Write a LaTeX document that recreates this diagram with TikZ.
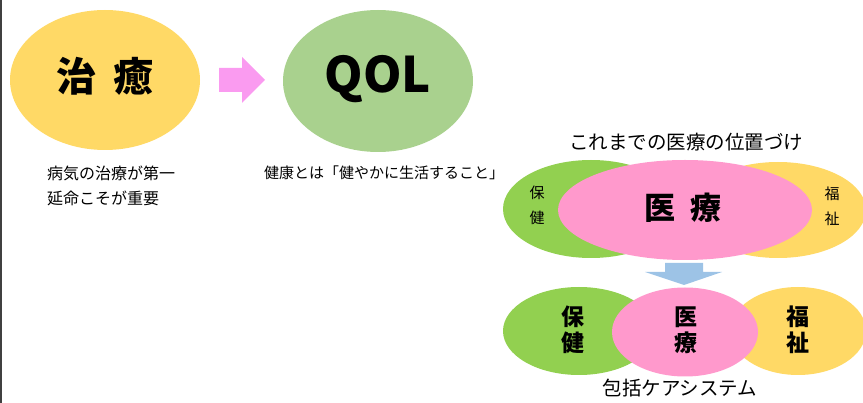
\documentclass[tikz,border=0pt]{standalone}
\usepackage{fontspec}
\setmainfont{Noto Sans CJK JP}
\newfontfamily\jp{Noto Sans CJK JP}
\usetikzlibrary{shapes.geometric}
\definecolor{cyellow}{HTML}{FFD966}
\definecolor{cgreen}{HTML}{92D050}
\definecolor{cqol}{HTML}{A9D18E}
\definecolor{cpink}{HTML}{FF99CC}
\definecolor{carrowpink}{HTML}{FA9BF0}
\definecolor{cblue}{HTML}{9DC3E6}
\tikzset{
  blob/.style={ellipse, inner sep=0pt, draw=none},
  lbl/.style={inner sep=0pt, font=\jp\fontsize{15}{18}\selectfont, anchor=west},
  head/.style={inner sep=0pt, font=\jp\fontsize{19.5}{22}\selectfont},
}
\begin{document}
\begin{tikzpicture}[x=1pt,y=-1pt]
\useasboundingbox (0,0) rectangle (863,403);
\clip (0,0) rectangle (863,403);
\fill[black!75] (0,0) rectangle (2,403);

% top left
\node[blob, fill=cyellow, minimum width=190pt, minimum height=140pt] (chiyu) at (105,80) {};
\node[inner sep=0pt, font=\jp\bfseries\fontsize{40}{44}\selectfont] (chiyut) at (105,76) {治\hspace{0.45em}癒};
\node[blob, fill=cqol, minimum width=190pt, minimum height=142pt] (qol) at (378,81) {};
\node[inner sep=0pt, font=\jp\bfseries\fontsize{49}{52}\selectfont] (qolt) at (378,79) {QOL};

\fill[carrowpink] (219,68) -- (242,68) -- (242,57) -- (265,80) -- (242,103) -- (242,92) -- (219,92) -- cycle;

\node[lbl, font=\jp\fontsize{16}{18}\selectfont] (t1) at (47,173) {病気の治療が第一};
\node[lbl, font=\jp\fontsize{16}{18}\selectfont] (t2) at (47,198) {延命こそが重要};
\node[lbl] (t3) at (264,173) {健康とは「健やかに生活すること」};

% top venn
\node[head] (h1) at (686,142) {これまでの医療の位置づけ};
\node[blob, fill=cgreen, minimum width=176pt, minimum height=98pt] (g1) at (591,209) {};
\node[blob, fill=cyellow, minimum width=176pt, minimum height=96pt] (y1) at (778,210) {};
\node[blob, fill=cpink, minimum width=254pt, minimum height=100pt] (p1) at (685,210) {};
\node[inner sep=0pt, align=center, font=\jp\fontsize{15}{25}\selectfont] (hk1) at (537,205) {保\\健};
\node[inner sep=0pt, align=center, font=\jp\fontsize{15}{25}\selectfont] (fs1) at (832,206) {福\\祉};
\node[inner sep=0pt, font=\jp\bfseries\fontsize{31}{34}\selectfont] (ir1) at (683,208) {医\hspace{0.5em}療};

% blue arrow
\fill[cblue] (665,263) -- (703,263) -- (703,272) -- (722,272) -- (684,285) -- (645,272) -- (665,272) -- cycle;

% bottom venn
\node[blob, fill=cgreen, minimum width=152pt, minimum height=88pt] (g2) at (579,331) {};
\node[blob, fill=cyellow, minimum width=136pt, minimum height=88pt] (y2) at (798,331) {};
\node[blob, fill=cpink, minimum width=146pt, minimum height=89pt] (p2) at (685,332) {};
\node[inner sep=0pt, align=center, font=\jp\bfseries\fontsize{23}{26}\selectfont] (hk2) at (573,330) {保\\健};
\node[inner sep=0pt, align=center, font=\jp\bfseries\fontsize{23}{26}\selectfont] (ir2) at (686,330) {医\\療};
\node[inner sep=0pt, align=center, font=\jp\bfseries\fontsize{23}{26}\selectfont] (fs2) at (798,330) {福\\祉};
\node[head] (h2) at (680,388) {包括ケアシステム};
\end{tikzpicture}
\end{document}
